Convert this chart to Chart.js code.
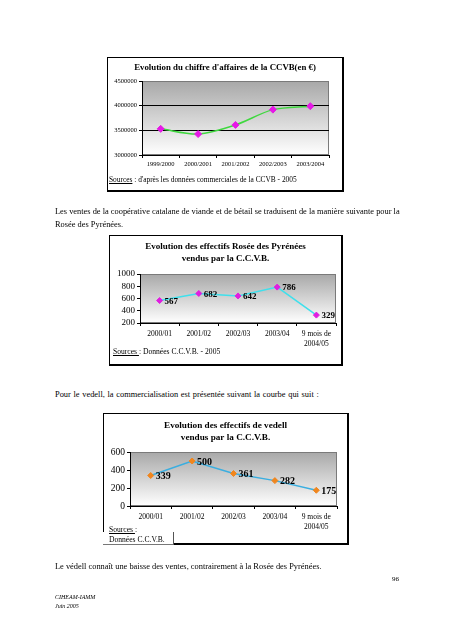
<!DOCTYPE html>
<html>
<head>
<meta charset="utf-8">
<script src="https://cdn.jsdelivr.net/npm/chart.js@4/dist/chart.umd.min.js"></script>
<style>
  body { margin: 0; background: #fff; width: 452px; height: 640px; position: relative; overflow: hidden;
         font-family: "Liberation Serif", "Times New Roman", serif; color: #000; }
  .t { position: absolute; font-size: 8.4px; line-height: 1; white-space: nowrap; }
  .box { position: absolute; box-sizing: border-box; background: #fff;
         border: 1px solid #000; border-right-width: 2px; border-bottom-width: 2px; }
  .box canvas { position: absolute; left: 0; top: 0; }
  .src { position: absolute; line-height: 1; white-space: nowrap; }
  .src u { text-decoration: underline; }
</style>
</head>
<body>

<!-- graphique 1 : chiffre d'affaires -->
<div class="box" style="left:107px;top:57px;width:237px;height:135px;">
  <canvas id="caChart" width="234" height="132"></canvas>
  <div class="src" style="left:1px;top:118px;font-size:7.4px;"><u>Sources</u> : d'après les données commerciales de la CCVB - 2005</div>
</div>

<div class="t" style="left:55px;top:208px;">Les ventes de la coopérative catalane de viande et de bétail se traduisent de la manière suivante pour la</div>
<div class="t" style="left:55px;top:221px;">Rosée des Pyrénées.</div>

<!-- graphique 2 : Rosée des Pyrénées -->
<div class="box" style="left:109px;top:235px;width:234px;height:131px;">
  <canvas id="roseeChart" width="231" height="128"></canvas>
  <div class="src" style="left:3px;top:112px;font-size:7.6px;"><u>Sources </u>: Données C.C.V.B. - 2005</div>
</div>

<div class="t" style="left:55px;top:391px;word-spacing:0.6px;">Pour le vedell, la commercialisation est présentée suivant la courbe qui suit :</div>

<!-- graphique 3 : vedell -->
<div class="box" style="left:103px;top:413px;width:246px;height:132px;">
  <canvas id="vedellChart" width="243" height="129"></canvas>
  <div style="position:absolute;left:-1px;top:118px;width:70px;height:12px;background:#fff;border-right:1px solid #555;border-bottom:1px solid #777;"></div>
  <div class="src" style="left:5px;top:112px;font-size:7.6px;"><u>Sources </u>:</div>
  <div class="src" style="left:5px;top:122px;font-size:7.6px;">Données C.C.V.B.</div>
</div>

<div class="t" style="left:55px;top:563px;">Le védell connaît une baisse des ventes, contrairement à la Rosée des Pyrénées.</div>
<div class="t" style="left:392px;top:576px;font-size:7px;">96</div>
<div class="t" style="left:55px;top:594px;font-size:6px;font-style:italic;">CIHEAM-IAMM</div>
<div class="t" style="left:55px;top:603px;font-size:6px;font-style:italic;">Juin 2005</div>

<script>
// données
const caYears = ['1999/2000', '2000/2001', '2001/2002', '2002/2003', '2003/2004'];
const caValues = [3530000, 3425000, 3610000, 3920000, 3990000];
const caTicks = [3000000, 3500000, 4000000, 4500000];

const roseeLabels = ['2000/01', '2001/02', '2002/03', '2003/04', ['9 mois de', '2004/05']];
const roseeValues = [567, 682, 642, 786, 329];
const roseeTicks = [200, 400, 600, 800, 1000];

const vedellLabels = ['2000/01', '2001/02', '2002/03', '2003/04', ['9 mois de', '2004/05']];
const vedellValues = [339, 500, 361, 282, 175];
const vedellTicks = [0, 200, 400, 600];

Chart.defaults.font.family = '"Liberation Serif", "Times New Roman", serif';
Chart.defaults.color = '#000';

// fond dégradé gris de la zone de tracé (style Excel)
const plotBg = {
  id: 'plotBg',
  beforeDraw(chart) {
    const { ctx, chartArea: a } = chart;
    const g = ctx.createLinearGradient(0, a.top, 0, a.bottom);
    g.addColorStop(0, '#a8a8a8');
    g.addColorStop(1, '#ffffff');
    ctx.save();
    ctx.fillStyle = g;
    ctx.fillRect(a.left, a.top, a.width, a.height);
    ctx.strokeStyle = '#7a7a7a';
    ctx.lineWidth = 1;
    ctx.strokeRect(a.left + 0.5, a.top + 0.5, a.width - 1, a.height - 1);
    ctx.restore();
  }
};

// étiquettes de valeurs à droite des points
const valueLabels = {
  id: 'valueLabels',
  afterDatasetsDraw(chart, args, opts) {
    const ctx = chart.ctx;
    const ds = chart.data.datasets[0];
    const meta = chart.getDatasetMeta(0);
    ctx.save();
    ctx.font = 'bold ' + opts.size + 'px "Liberation Serif", serif';
    ctx.fillStyle = '#000';
    ctx.textBaseline = 'middle';
    ctx.textAlign = 'left';
    meta.data.forEach((pt, i) => {
      ctx.fillText(String(ds.data[i]), pt.x + opts.dx, pt.y + 1);
    });
    ctx.restore();
  }
};

function lineChart(id, o) {
  return new Chart(document.getElementById(id), {
    type: 'line',
    data: {
      labels: o.labels,
      datasets: [{
        data: o.values,
        borderColor: o.line,
        borderWidth: 1.5,
        tension: o.tension || 0,
        pointStyle: 'rectRot',
        pointRadius: o.pr,
        pointBackgroundColor: o.point,
        pointBorderColor: o.point,
        pointBorderWidth: 1
      }]
    },
    options: {
      responsive: false,
      animation: false,
      events: [],
      layout: { padding: 0 },
      plugins: {
        legend: { display: false },
        tooltip: { enabled: false },
        title: {
          display: true,
          text: o.title,
          color: '#000',
          font: { size: o.tSize, weight: 'bold', lineHeight: o.tLine / o.tSize },
          padding: { top: o.tTop, bottom: o.tBottom }
        },
        valueLabels: o.vSize ? { size: o.vSize, dx: o.vDx } : false
      },
      scales: {
        x: {
          offset: true,
          grid: { offset: true, drawOnChartArea: false, tickLength: 3, tickColor: '#000' },
          border: { color: '#000', width: 1 },
          ticks: { font: { size: o.xSize, lineHeight: 10 / o.xSize }, padding: o.xPad, maxRotation: 0, autoSkip: false },
          afterFit(s) { s.height = o.xH; }
        },
        y: {
          min: o.ticks[0],
          max: o.ticks[o.ticks.length - 1],
          afterBuildTicks(s) { s.ticks = o.ticks.map(v => ({ value: v })); },
          grid: {
            tickLength: 3,
            tickColor: '#000',
            drawOnChartArea: !!o.hGrid,
            color: c => (o.hGrid && c.tick && c.tick.value > o.ticks[0] && c.tick.value < o.ticks[o.ticks.length - 1]) ? '#000' : 'rgba(0,0,0,0)'
          },
          border: { color: '#000', width: 1 },
          ticks: { font: { size: o.ySize }, padding: 2, autoSkip: false, callback: v => String(v) },
          afterFit(s) { s.width = o.yW; }
        },
        // marge droite vide, pour garder le titre centré sur le cadre
        yRight: {
          position: 'right',
          grid: { display: false },
          border: { display: false },
          ticks: { display: false },
          afterFit(s) { s.width = o.padR; }
        }
      }
    },
    plugins: [plotBg, valueLabels]
  });
}

lineChart('caChart', {
  labels: caYears, values: caValues, ticks: caTicks,
  title: "Evolution du chiffre d'affaires de la CCVB(en €)",
  tSize: 8.8, tLine: 12, tTop: 4, tBottom: 7,
  line: '#3fd83f', point: '#e619e6', pr: 3.5, tension: 0.3,
  yW: 34, xH: 35, padR: 13, ySize: 6.5, xSize: 6.5, xPad: 1, hGrid: true
});

lineChart('roseeChart', {
  labels: roseeLabels, values: roseeValues, ticks: roseeTicks,
  title: ['Evolution des effectifs Rosée des Pyrénées', 'vendus par la C.C.V.B.'],
  tSize: 9, tLine: 12, tTop: 5, tBottom: 9,
  line: '#3fe0ec', point: '#e01ee0', pr: 3, vSize: 9, vDx: 5,
  yW: 30, xH: 41, padR: 3, ySize: 9, xSize: 7.5, xPad: 3
});

lineChart('vedellChart', {
  labels: vedellLabels, values: vedellValues, ticks: vedellTicks,
  title: ['Evolution des effectifs de vedell', 'vendus par la C.C.V.B.'],
  tSize: 9.2, tLine: 12, tTop: 6, tBottom: 8,
  line: '#3aaee0', point: '#f0861e', pr: 3, vSize: 10, vDx: 5,
  yW: 26, xH: 37, padR: 10, ySize: 9.5, xSize: 7.5, xPad: 3
});
</script>
</body>
</html>
